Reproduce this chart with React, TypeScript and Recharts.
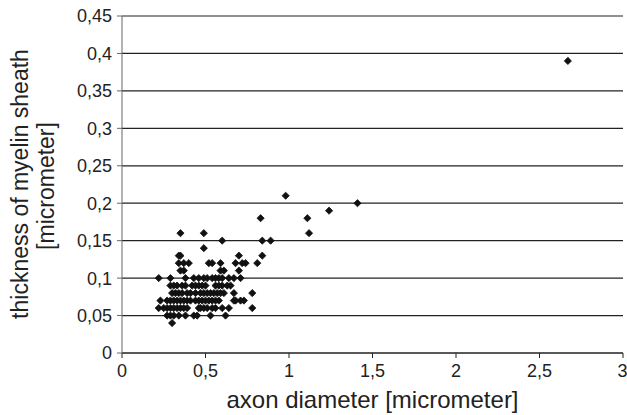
import { CartesianGrid, Scatter, ScatterChart, XAxis, YAxis } from "recharts";

// axon diameters (micrometer), grouped by the measured sheath thickness
const t004 = [0.3];
const t005 = [0.27, 0.29, 0.31, 0.34, 0.38, 0.43, 0.45, 0.53, 0.62];
const t006 = [0.22, 0.25, 0.27, 0.29, 0.31, 0.33, 0.35, 0.37, 0.39, 0.46, 0.47, 0.49, 0.51, 0.54, 0.56, 0.6, 0.64, 0.78];
const t007 = [0.23, 0.27, 0.29, 0.31, 0.33, 0.35, 0.37, 0.39, 0.41, 0.44, 0.46, 0.48, 0.5, 0.52, 0.54, 0.56, 0.58, 0.67, 0.68, 0.71, 0.73];
const t008 = [0.3, 0.32, 0.34, 0.36, 0.39, 0.41, 0.44, 0.47, 0.49, 0.51, 0.53, 0.55, 0.57, 0.59, 0.61, 0.67, 0.78];
const t009 = [0.29, 0.31, 0.33, 0.36, 0.38, 0.42, 0.44, 0.46, 0.48, 0.5, 0.56, 0.58, 0.6, 0.63, 0.65];
const t010 = [0.22, 0.29, 0.38, 0.43, 0.46, 0.49, 0.51, 0.54, 0.56, 0.58, 0.6, 0.64, 0.67, 0.71];
const t011 = [0.35, 0.37, 0.59, 0.61, 0.7];
const t012 = [0.34, 0.37, 0.4, 0.52, 0.54, 0.59, 0.68, 0.72, 0.74, 0.81];
const t013 = [0.34, 0.35, 0.7, 0.84];
const t014 = [0.49];
const t015 = [0.6, 0.84, 0.89];
const t016 = [0.35, 0.49, 1.12];
const t018 = [0.83, 1.11];
const t019 = [1.24];
const t020 = [1.41];
const t021 = [0.98];
const t039 = [2.67];

const rows: [number, number[]][] = [
  [0.04, t004],
  [0.05, t005],
  [0.06, t006],
  [0.07, t007],
  [0.08, t008],
  [0.09, t009],
  [0.1, t010],
  [0.11, t011],
  [0.12, t012],
  [0.13, t013],
  [0.14, t014],
  [0.15, t015],
  [0.16, t016],
  [0.18, t018],
  [0.19, t019],
  [0.2, t020],
  [0.21, t021],
  [0.39, t039],
];

const xTicks = [0, 0.5, 1, 1.5, 2, 2.5, 3];
const yTicks = [0, 0.05, 0.1, 0.15, 0.2, 0.25, 0.3, 0.35, 0.4, 0.45];

const data = rows.flatMap(([t, xs]) => xs.map((d) => ({ diameter: d, thickness: t })));

const fmt = (v: number) => String(v).replace(".", ",");

const font = "'Liberation Sans', Arial, sans-serif";

const Diamond = (props: any) => {
  const { cx, cy } = props;
  const r = 3.6;
  return (
    <path
      d={`M${cx},${cy - r}L${cx + r},${cy}L${cx},${cy + r}L${cx - r},${cy}Z`}
      fill="#111"
      stroke="#111"
      strokeWidth={0.8}
      strokeLinejoin="round"
    />
  );
};

const YTitle = () => (
  <g fontFamily={font} fontSize={23} fill="#222">
    <text x={28} y={184} textAnchor="middle" transform="rotate(-90, 28, 184)">
      thickness of myelin sheath
    </text>
    <text x={54} y={186} textAnchor="middle" transform="rotate(-90, 54, 186)">
      [micrometer]
    </text>
  </g>
);

export default function App() {
  return (
    <div style={{ position: "absolute", left: 0, top: 0, background: "#fff" }}>
      <ScatterChart width={627} height={415} margin={{ top: 16, right: 4, bottom: 0, left: 0 }}>
        <CartesianGrid vertical={false} stroke="#222" strokeWidth={1.2} />
        <XAxis
          type="number"
          dataKey="diameter"
          domain={[0, 3]}
          ticks={xTicks}
          tickFormatter={fmt}
          height={62}
          stroke="#222"
          tickSize={5}
          tickMargin={6}
          tick={{ fill: "#222", fontSize: 18, fontFamily: font }}
          label={{
            value: "axon diameter [micrometer]",
            position: "insideBottom",
            offset: 7,
            fill: "#222",
            fontSize: 24,
            fontFamily: font,
          }}
        />
        <YAxis
          type="number"
          dataKey="thickness"
          domain={[0, 0.45]}
          ticks={yTicks}
          tickFormatter={fmt}
          width={122}
          stroke="#666"
          tickSize={5}
          tickMargin={5}
          tick={{ fill: "#222", fontSize: 18, fontFamily: font }}
          label={<YTitle />}
        />
        <Scatter data={data} shape={<Diamond />} isAnimationActive={false} />
      </ScatterChart>
    </div>
  );
}
